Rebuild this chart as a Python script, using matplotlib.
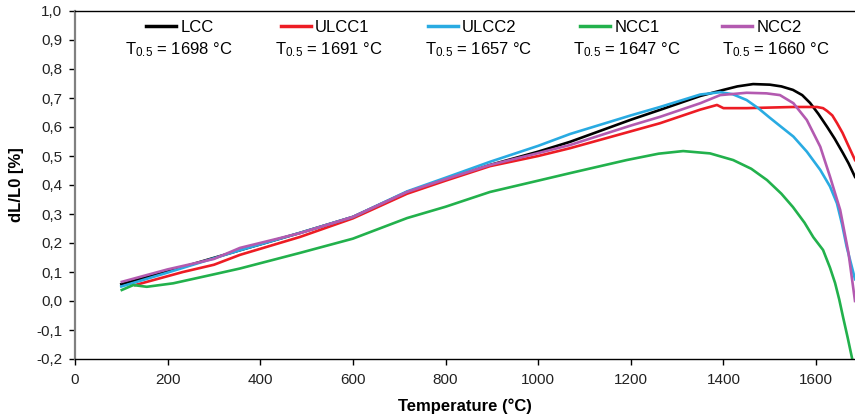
import matplotlib
matplotlib.use('Agg')
import matplotlib.pyplot as plt
import matplotlib.ticker as ticker
from matplotlib.lines import Line2D
from matplotlib.legend import Legend


### DATA

names = ['LCC', 'ULCC1', 'ULCC2', 'NCC1', 'NCC2']
t05 = [1698, 1691, 1657, 1647, 1660]

lcc_T = [100, 200, 356, 486, 600, 717, 800, 896, 1000, 1069, 1200, 1263, 1350, 1400, 1430, 1464, 1500, 1525, 1550, 1570,
         1587, 1605, 1624, 1640, 1658, 1670, 1684]
lcc_dL = [0.058, 0.102, 0.175, 0.235, 0.290, 0.376, 0.418, 0.469, 0.515, 0.549, 0.625, 0.659, 0.707, 0.728, 0.740, 0.748,
          0.746, 0.740, 0.728, 0.710, 0.683, 0.645, 0.600, 0.560, 0.510, 0.475, 0.428]

ulcc1_T = [130, 233, 300, 356, 486, 600, 717, 800, 896, 1000, 1069, 1200, 1263, 1350, 1386, 1400, 1450, 1500, 1550,
           1602, 1615, 1624, 1635, 1645, 1657, 1667, 1684]
ulcc1_dL = [0.055, 0.100, 0.125, 0.159, 0.221, 0.285, 0.370, 0.415, 0.465, 0.500, 0.527, 0.585, 0.613, 0.660, 0.676,
            0.665, 0.665, 0.667, 0.669, 0.669, 0.665, 0.655, 0.640, 0.614, 0.580, 0.545, 0.486]

ulcc2_T = [100, 200, 356, 486, 600, 717, 800, 896, 1000, 1069, 1200, 1263, 1350, 1393, 1420, 1450, 1475, 1500, 1525,
           1551, 1580, 1609, 1630, 1645, 1656, 1666, 1676, 1684]
ulcc2_dL = [0.050, 0.098, 0.175, 0.235, 0.290, 0.378, 0.425, 0.480, 0.535, 0.576, 0.640, 0.669, 0.712, 0.720, 0.713,
            0.693, 0.665, 0.632, 0.600, 0.567, 0.515, 0.452, 0.395, 0.337, 0.265, 0.187, 0.125, 0.075]

ncc1_T = [101, 126, 155, 212, 300, 356, 486, 600, 717, 800, 896, 1000, 1069, 1191, 1260, 1313, 1371, 1421, 1460, 1494,
          1525, 1550, 1575, 1594, 1615, 1630, 1641, 1650, 1658, 1668, 1678]
ncc1_dL = [0.038, 0.055, 0.049, 0.061, 0.092, 0.112, 0.166, 0.215, 0.286, 0.325, 0.376, 0.415, 0.441, 0.486, 0.508,
           0.517, 0.509, 0.486, 0.456, 0.417, 0.370, 0.324, 0.270, 0.220, 0.176, 0.115, 0.062, 0.005, -0.054, -0.125, -0.200]

ncc2_T = [101, 200, 300, 356, 486, 600, 717, 800, 896, 1000, 1069, 1200, 1263, 1350, 1393, 1450, 1493, 1522, 1551,
          1580, 1609, 1630, 1652, 1670, 1684]
ncc2_dL = [0.066, 0.109, 0.145, 0.183, 0.234, 0.290, 0.376, 0.420, 0.469, 0.510, 0.538, 0.605, 0.635, 0.682, 0.710,
           0.718, 0.716, 0.710, 0.682, 0.624, 0.532, 0.429, 0.314, 0.165, 0.000]

series_T = [lcc_T, ulcc1_T, ulcc2_T, ncc1_T, ncc2_T]
series_dL = [lcc_dL, ulcc1_dL, ulcc2_dL, ncc1_dL, ncc2_dL]


### STYLE

colors = ['#000000', '#ED1C24', '#29ABE2', '#22B14C', '#B35AB0']

plt.rcParams['font.family'] = ['Liberation Sans', 'DejaVu Sans']
plt.rcParams['mathtext.fontset'] = 'custom'
plt.rcParams['mathtext.rm'] = 'Liberation Sans'
plt.rcParams['mathtext.it'] = 'Liberation Sans:italic'
plt.rcParams['mathtext.bf'] = 'Liberation Sans:bold'

fig = plt.figure(figsize=(8.55, 4.18), dpi=100)
ax = fig.add_axes([75/855, 59/418, 780/855, 348/418])

for T, dL, c in zip(series_T, series_dL, colors):
    ax.plot(T, dL, color=c, linewidth=1.9, solid_joinstyle='round')

ax.set_xlim(0, 1684)
ax.set_ylim(-0.2, 1.0)
ax.xaxis.set_major_locator(ticker.MultipleLocator(200))
ax.yaxis.set_major_locator(ticker.MultipleLocator(0.1))
ax.yaxis.set_major_formatter(ticker.FuncFormatter(lambda v, _: f'{v:.1f}'.replace('.', ',')))

ax.tick_params(direction='out', length=4, width=1, colors='black', labelsize=11, labelcolor='#222222')
ax.tick_params(axis='x', pad=6)
ax.tick_params(axis='y', pad=5)
ax.spines['left'].set_color('#808080')
ax.spines['left'].set_linewidth(1.6)
ax.spines['bottom'].set_linewidth(1.0)
ax.spines['top'].set_linewidth(1.0)
ax.spines['right'].set_visible(False)

ax.set_xlabel('Temperature (°C)', fontsize=12, fontweight='bold', labelpad=8)
ax.set_ylabel('dL/L0 [%]', fontsize=12, fontweight='bold', labelpad=9)


### LEGEND (one entry per column, T0.5 text below)

handle_x = [0.091, 0.2641, 0.4526, 0.6474, 0.8295]
text_x = [0.0641, 0.2564, 0.4487, 0.6385, 0.8295]

for i in range(len(names)):
    h = Line2D([], [], color=colors[i], linewidth=2.5)
    leg = Legend(ax, [h], [names[i]], loc='center left', bbox_to_anchor=(handle_x[i], 0.954),
                 frameon=False, borderpad=0, borderaxespad=0, handlelength=1.8,
                 handletextpad=0.25, fontsize=12)
    ax.add_artist(leg)
    ax.text(text_x[i], 0.888, rf'T$_{{\mathrm{{0.5}}}}$ = {t05[i]} °C', transform=ax.transAxes,
            ha='left', va='center', fontsize=12)

fig.savefig('out.png', dpi=100)
